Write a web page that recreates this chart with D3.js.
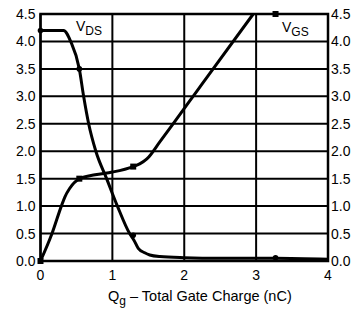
<!DOCTYPE html>
<html>
<head>
<meta charset="utf-8">
<script src="https://cdn.jsdelivr.net/npm/d3@7"></script>
<style>
  body { margin: 0; background: #fff; }
  text { font-family: "Liberation Sans", Arial, sans-serif; fill: #000; }
</style>
</head>
<body>
<div id="chart"></div>
<script>
const W = 359, H = 312;
const margin = { top: 14, right: 31, bottom: 51, left: 40.5 };

// gate charge (nC) and voltages (V)
const vdsQ = [0, 0.32, 0.42, 0.54, 0.60, 0.67, 0.77, 0.92, 1.07, 1.24, 1.30, 1.36, 1.45, 1.52, 1.66, 2.0, 2.5, 3.27, 4.0];
const vdsV = [4.2, 4.2, 4.0, 3.5, 3.0, 2.5, 2.0, 1.5, 1.0, 0.5, 0.38, 0.23, 0.15, 0.11, 0.08, 0.06, 0.05, 0.05, 0.03];
const vgsQ = [0, 0.16, 0.29, 0.34, 0.405, 0.545, 0.76, 1.0, 1.29, 1.38, 1.48, 1.66, 2.3, 2.96];
const vgsV = [0, 0.5, 1.0, 1.17, 1.32, 1.5, 1.57, 1.62, 1.72, 1.77, 1.86, 2.17, 3.32, 4.5];
const markQ = [0, 0.54, 1.29, 3.27];
const vdsMarkV = [4.2, 3.5, 0.47, 0.06];
const vgsMarkV = [0, 1.5, 1.72, 4.5];
const xTicks = [0, 1, 2, 3, 4];
const yTicks = [0, 0.5, 1, 1.5, 2, 2.5, 3, 3.5, 4, 4.5];

const svg = d3.select("#chart").append("svg").attr("width", W).attr("height", H);
const iw = W - margin.left - margin.right, ih = H - margin.top - margin.bottom;
const x = d3.scaleLinear().domain([0, 4]).range([margin.left, margin.left + iw]);
const y = d3.scaleLinear().domain([0, 4.5]).range([margin.top + ih, margin.top]);

// grid
svg.append("g").selectAll("line").data(xTicks).enter().append("line")
  .attr("x1", d => x(d)).attr("x2", d => x(d))
  .attr("y1", y(0)).attr("y2", y(4.5))
  .attr("stroke", "#000").attr("stroke-width", 2);
svg.append("g").selectAll("line").data(yTicks).enter().append("line")
  .attr("x1", x(0)).attr("x2", x(4))
  .attr("y1", d => y(d)).attr("y2", d => y(d))
  .attr("stroke", "#000").attr("stroke-width", 2);
svg.append("rect").attr("x", x(0)).attr("y", y(4.5))
  .attr("width", x(4) - x(0)).attr("height", y(0) - y(4.5))
  .attr("fill", "none").attr("stroke", "#000").attr("stroke-width", 2.5);

// tick labels
const fmt = d3.format(".1f");
svg.append("g").selectAll("text").data(yTicks).enter().append("text")
  .attr("x", x(0) - 5).attr("y", d => y(d) + 5)
  .attr("text-anchor", "end").attr("font-size", 14).text(d => fmt(d));
svg.append("g").selectAll("text").data(yTicks).enter().append("text")
  .attr("x", x(4) + 3).attr("y", d => y(d) + 5)
  .attr("text-anchor", "start").attr("font-size", 14).text(d => fmt(d));
svg.append("g").selectAll("text").data(xTicks).enter().append("text")
  .attr("x", d => x(d)).attr("y", y(0) + 19)
  .attr("text-anchor", "middle").attr("font-size", 14).text(d => d);

// axis title
const title = svg.append("text").attr("x", 108).attr("y", 301)
  .attr("text-anchor", "start").attr("font-size", 14.5);
title.append("tspan").text("Q");
title.append("tspan").attr("font-size", 12).attr("dy", 4).text("g");
title.append("tspan").attr("dy", -4).text(" \u2013 Total Gate Charge (nC)");

// curves
const line = d3.line().x(d => x(d[0])).y(d => y(d[1])).curve(d3.curveMonotoneX);
svg.append("path").datum(d3.zip(vdsQ, vdsV)).attr("d", line)
  .attr("fill", "none").attr("stroke", "#000").attr("stroke-width", 3).attr("stroke-linejoin", "round");
svg.append("path").datum(d3.zip(vgsQ, vgsV)).attr("d", line)
  .attr("fill", "none").attr("stroke", "#000").attr("stroke-width", 3).attr("stroke-linejoin", "round");

// markers
svg.append("g").selectAll("circle").data(d3.zip(markQ, vdsMarkV)).enter().append("circle")
  .attr("cx", d => x(d[0])).attr("cy", d => y(d[1])).attr("r", 2.8).attr("fill", "#000");
svg.append("g").selectAll("rect").data(d3.zip(markQ, vgsMarkV)).enter().append("rect")
  .attr("x", d => x(d[0]) - 3).attr("y", d => y(d[1]) - 3)
  .attr("width", 6).attr("height", 6).attr("fill", "#000");

// curve labels
const lds = svg.append("text").attr("x", 76).attr("y", 31).attr("font-size", 14);
lds.append("tspan").text("V");
lds.append("tspan").attr("font-size", 12).attr("dy", 4).text("DS");
const lgs = svg.append("text").attr("x", 282).attr("y", 32).attr("font-size", 14);
lgs.append("tspan").text("V");
lgs.append("tspan").attr("font-size", 12).attr("dy", 4).text("GS");
</script>
</body>
</html>
